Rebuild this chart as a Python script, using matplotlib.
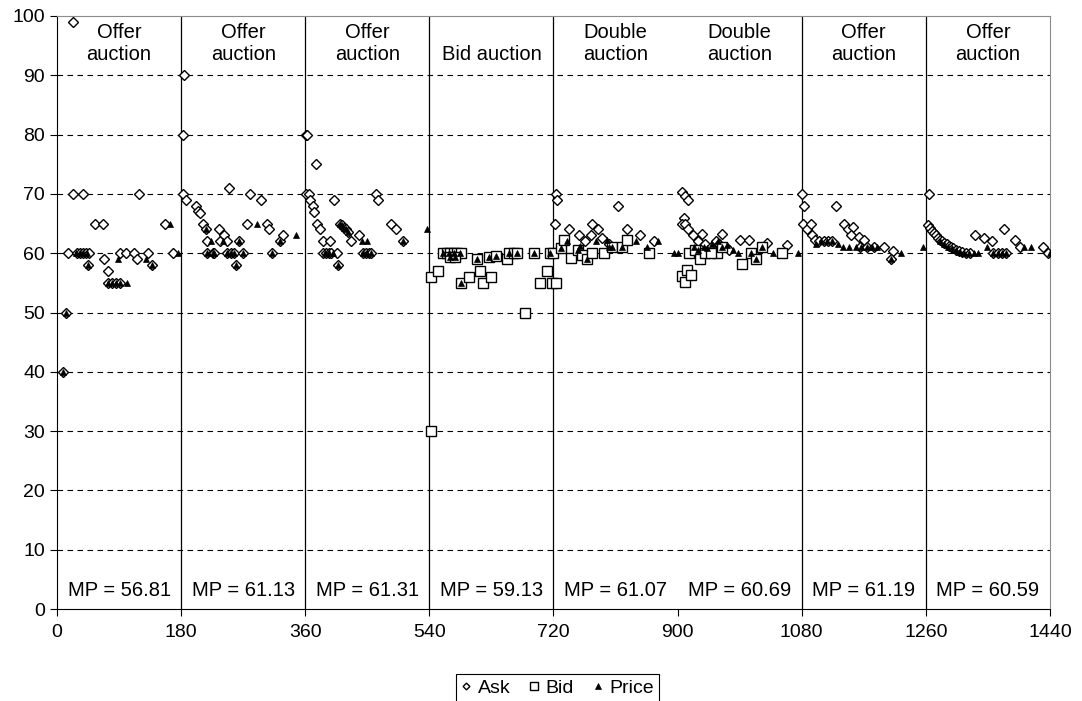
import matplotlib.pyplot as plt

plt.rcParams['font.family'] = ['Liberation Sans', 'DejaVu Sans']

# Ask quotes (open diamonds)
ask_x = [8, 13, 16, 23, 23, 37, 29, 33, 38, 42, 46, 45, 55, 67, 68, 74, 74, 80, 86, 92, 91, 100, 112, 119, 116, 132, 138, 157, 168,
         184, 182, 182, 187, 202, 205, 208, 211, 216, 218, 218, 226, 228, 235, 237, 242, 247, 246, 252, 257, 259, 250, 264, 269, 276, 280, 296, 304, 307, 312, 324, 328,
         361, 362, 375, 361, 365, 367, 371, 373, 377, 381, 401, 386, 396, 386, 390, 394, 398, 406, 407, 410, 413, 416, 419, 422, 427, 438, 444, 448, 452, 456, 463, 466, 485, 492, 502,
         723, 725, 722, 743, 757, 776, 784, 774, 813, 827, 846, 866, 765, 790, 800,
         906, 910, 915, 909, 906, 910, 915, 922, 936, 964, 990, 1003, 1029, 1059, 930, 940, 948, 955, 960, 970, 975,
         1081, 1083, 1082, 1087, 1093, 1095, 1099, 1105, 1112, 1118, 1124, 1130, 1141, 1147, 1154, 1152, 1163, 1170, 1165, 1175, 1185, 1200, 1213, 1210,
         1265, 1263, 1266, 1269, 1272, 1275, 1278, 1281, 1284, 1287, 1290, 1293, 1296, 1300, 1304, 1308, 1313, 1318, 1324,
         1331, 1344, 1356, 1373, 1389, 1396, 1358, 1364, 1370, 1376, 1430, 1437]
ask_y = [40, 50, 60, 99, 70, 70, 60, 60, 60, 60, 60, 58, 65, 65, 59, 57, 55, 55, 55, 55, 60, 60, 60, 70, 59, 60, 58, 65, 60,
         90, 80, 70, 69, 68, 67.2, 66.8, 65, 64, 62, 60, 60, 60, 64, 62, 63, 62, 60, 60, 60, 58, 71, 62, 60, 65, 70, 69, 65, 64, 60, 62, 63,
         80, 80, 75, 70, 70, 69, 68, 67, 65, 64, 69, 62, 62, 60, 60, 60, 60, 60, 58, 65, 64.7, 64.3, 64, 63.5, 62, 63, 60, 60, 60, 60, 70, 69, 65, 64, 62,
         70, 69, 65, 64, 63, 65, 64, 63, 68, 64, 63, 62, 62, 62.5, 61.5,
         70.3, 69.7, 68.9, 66, 65, 65, 64, 63, 63.3, 63.3, 62.2, 62.2, 61.7, 61.3, 62, 61.5, 61, 62, 61.5, 61, 60.5,
         70, 68, 65, 64, 65, 63, 62.2, 62, 62, 62, 62, 68, 65, 64, 64.5, 63, 62.8, 62.2, 61, 61, 61, 61, 60.3, 59,
         70, 64.8, 64.2, 63.8, 63.4, 63, 62.6, 62.3, 62, 61.8, 61.5, 61.2, 61, 60.8, 60.5, 60.3, 60.2, 60, 60,
         63, 62.6, 62, 64, 62.2, 61, 60, 60, 60, 60, 61, 60]

# Bid quotes (open squares)
bid_x = [542, 543, 553, 560, 565, 570, 575, 580, 586, 570, 577, 586, 598, 609, 613, 618, 627, 630, 636, 653, 656, 662, 667, 678, 691, 701, 710, 715, 718,
         720, 723, 731, 735, 745, 755, 762, 769, 776, 793, 805, 820, 827, 858,
         907, 910, 914, 920, 917, 925, 932, 940, 957, 965, 994, 1007, 1014, 1022, 1052, 948]
bid_y = [56, 30, 57, 60, 60, 60, 60, 60, 60, 59.3, 59.3, 55, 56, 59, 57, 55, 59.3, 56, 59.6, 59, 60, 60, 60, 50, 60, 55, 57, 60, 55,
         60, 55, 60.8, 62.2, 59.2, 60.6, 59.7, 59, 60, 60, 61.1, 61.1, 62.2, 60,
         56.2, 55.1, 57.2, 56.3, 60, 60.5, 59, 60, 60, 61, 58.2, 60, 59, 61, 60, 60]

# Transaction prices (filled triangles)
price_x = [8, 13, 28, 33, 38, 43, 45, 74, 80, 86, 91, 101, 89, 129, 138, 164, 175,
           216, 223, 218, 226, 228, 240, 246, 252, 257, 259, 264, 269, 290, 312, 324, 346,
           388, 394, 400, 407, 410, 413, 416, 419, 422, 442, 449, 444, 450, 456, 502, 537,
           560, 568, 576, 584, 570, 577, 586, 609, 627, 636, 656, 667, 691, 715,
           740, 759, 781, 798, 800, 839, 856, 871, 895, 731, 755, 769, 805, 820,
           900, 924, 930, 938, 943, 950, 958, 965, 972, 981, 987, 1007, 1014, 1023, 1039, 1075,
           1100, 1108, 1116, 1124, 1132, 1140, 1148, 1158, 1166, 1174, 1182, 1189, 1210, 1224, 1256,
           1280, 1286, 1292, 1298, 1304, 1310, 1316, 1322, 1330, 1336, 1348, 1358, 1364, 1370, 1376, 1403, 1413, 1440]
price_y = [40, 50, 60, 60, 60, 60, 58, 55, 55, 55, 55, 55, 59, 59, 58, 65, 60,
           64, 62, 60, 60, 60, 62, 60, 60, 60, 58, 62, 60, 65, 60, 62, 63,
           60, 60, 60, 58, 65, 64.7, 64.3, 64, 63.5, 62, 62, 60, 60, 60, 62, 64,
           60, 60, 60, 60, 59.3, 59.3, 55, 59, 59.3, 59.6, 60, 60, 60, 60,
           62, 61.2, 62, 62.2, 61.1, 62, 61, 62, 60, 60.8, 60.6, 59, 61.1, 61.1,
           60, 61, 60.5, 61, 60.8, 61.5, 62, 61, 61.3, 60.5, 60, 60, 59, 61.1, 60, 60,
           61.5, 62, 62, 62, 61.5, 61, 61, 61, 61, 61, 61, 61, 59, 60, 61,
           62, 61.5, 61, 60.8, 60.5, 60.2, 60, 60, 60, 60, 61, 60, 60, 60, 60, 61, 61, 60]

period_start = [0, 180, 360, 540, 720, 900, 1080, 1260]
period_names = ['Offer\nauction', 'Offer\nauction', 'Offer\nauction', 'Bid auction',
                'Double\nauction', 'Double\nauction', 'Offer\nauction', 'Offer\nauction']
mp_values = ['56.81', '61.13', '61.31', '59.13', '61.07', '60.69', '61.19', '60.59']
session_breaks = [180, 360, 540, 720, 1080, 1260]

fig = plt.figure(figsize=(10.82, 7.01), dpi=100)
ax = fig.add_axes([0.0527, 0.1312, 0.9177, 0.846])

for yv in range(10, 100, 10):
    ax.axhline(yv, color='black', lw=0.8, ls=(0, (5, 4)), zorder=1)
for xv in session_breaks:
    ax.axvline(xv, color='black', lw=0.9, zorder=1)

ax.plot(ask_x, ask_y, ls='none', marker='D', ms=4.6, mfc='white', mec='black', mew=1.0, label='Ask', zorder=3)
ax.plot(bid_x, bid_y, ls='none', marker='s', ms=7, mfc='white', mec='black', mew=1.0, label='Bid', zorder=3)
ax.plot(price_x, price_y, ls='none', marker='^', ms=5, mfc='black', mec='black', mew=0.5, label='Price', zorder=4)

for s, name, mp in zip(period_start, period_names, mp_values):
    ax.text(s + 90, 91.9, name, ha='center', va='bottom', fontsize=14.5, linespacing=1.2)
    ax.text(s + 90, 3.2, 'MP = ' + mp, ha='center', va='center', fontsize=14.5)

ax.set_xlim(0, 1440)
ax.set_ylim(0, 100)
ax.set_xticks(range(0, 1441, 180))
ax.set_yticks(range(0, 101, 10))
ax.tick_params(direction='out', length=5, labelsize=14, width=0.8)
ax.tick_params(axis='x', pad=6)
ax.spines['top'].set_color('#8c8c8c')
ax.spines['right'].set_color('#8c8c8c')
for sp in ['left', 'bottom']:
    ax.spines[sp].set_color('black')

leg = fig.legend(loc='center', bbox_to_anchor=(0.515, 0.0185), ncol=3, fontsize=14,
                 frameon=True, fancybox=False, edgecolor='black', framealpha=1,
                 handlelength=0.6, handletextpad=0.3, columnspacing=0.9, borderpad=0.25,
                 markerscale=0.75)
leg.get_frame().set_linewidth(0.8)

fig.savefig('out.png', dpi=100)
